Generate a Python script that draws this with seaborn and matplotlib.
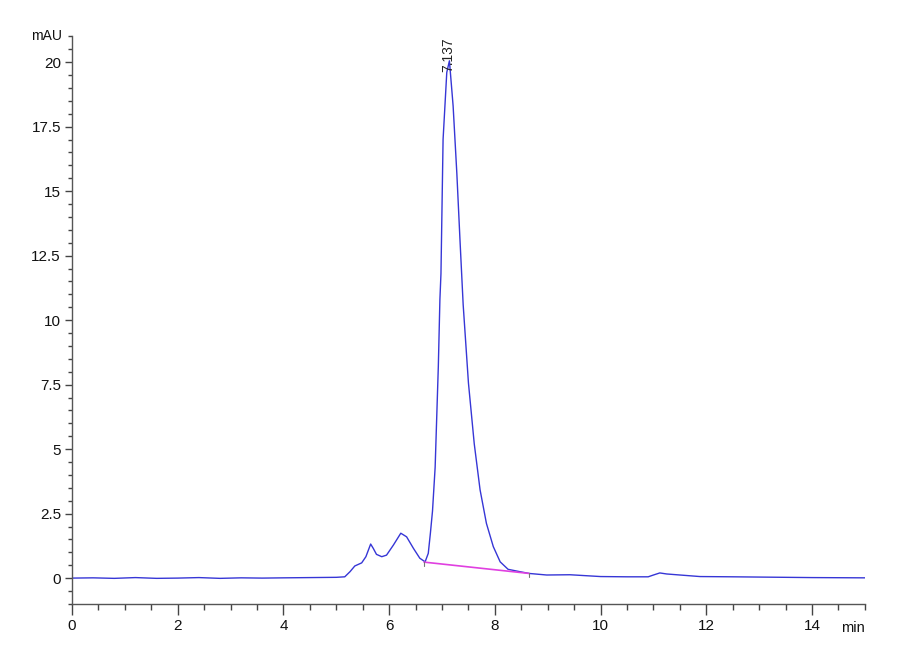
import numpy as np
import pandas as pd
import matplotlib
matplotlib.use("Agg")
import matplotlib.pyplot as plt
import seaborn as sns
from matplotlib.ticker import MultipleLocator

# ---- data ----
time_min = [0.0, 0.4, 0.8, 1.2, 1.6, 2.0, 2.4, 2.8, 3.2, 3.6, 4.0, 4.5, 5.0, 5.16,
            5.26, 5.35, 5.48, 5.56, 5.65, 5.70, 5.76, 5.86, 5.95, 6.08, 6.22,
            6.33, 6.46, 6.58, 6.68, 6.74, 6.78, 6.82, 6.87, 6.93, 6.96, 6.98,
            7.00, 7.02, 7.09, 7.14, 7.21, 7.28, 7.34, 7.40, 7.50, 7.61,
            7.72, 7.84, 7.97, 8.10, 8.25, 8.47, 8.65, 8.98, 9.42, 10.0, 10.5,
            10.9, 11.0, 11.12, 11.25, 11.5, 11.88, 12.5, 13.0, 13.5, 14.0, 15.0]
signal_mAU = [0.0, 0.01, -0.01, 0.02, -0.01, 0.0, 0.02, -0.01, 0.01, 0.0, 0.01, 0.02, 0.03, 0.05,
              0.25, 0.47, 0.59, 0.83, 1.32, 1.15, 0.92, 0.83, 0.89, 1.28, 1.74,
              1.60, 1.15, 0.77, 0.63, 0.96, 1.74, 2.6, 4.3, 8.2, 10.8, 11.8,
              14.4, 17.0, 19.6, 20.05, 18.3, 15.7, 13.1, 10.6, 7.56, 5.2,
              3.42, 2.12, 1.22, 0.63, 0.34, 0.25, 0.18, 0.12, 0.13, 0.06, 0.05,
              0.05, 0.12, 0.20, 0.16, 0.12, 0.06, 0.05, 0.04, 0.03, 0.02, 0.01]

baseline_t = [6.66, 8.65]
baseline_v = [0.62, 0.18]

peak_rt = 7.137
peak_label = "7.137"

df = pd.DataFrame({"t": time_min, "v": signal_mAU})
bl = pd.DataFrame({"t": baseline_t, "v": baseline_v})

sns.set_style("white")
plt.rcParams["font.family"] = ["Liberation Sans Narrow", "Liberation Sans", "DejaVu Sans"]

fig = plt.figure(figsize=(9, 6.6), dpi=100)
ax = fig.add_axes([0.08, 0.085, 0.881, 0.86])

sns.lineplot(data=df, x="t", y="v", sort=False, ax=ax, color="#3636d6", lw=1.0)
sns.lineplot(data=bl, x="t", y="v", sort=False, ax=ax, color="#e040e0", lw=1.2)

# integration tick marks at baseline ends
for tt, vv in zip(baseline_t, baseline_v):
    ax.plot([tt, tt], [vv, vv - 0.15], color="#777777", lw=0.8)

ax.text(peak_rt - 0.02, 19.6, peak_label, rotation=90, ha="center", va="bottom",
        fontsize=10, color="#222222")

ax.set_xlim(0, 15)
ax.set_ylim(-1, 21)
ax.xaxis.set_minor_locator(MultipleLocator(0.5))
ax.yaxis.set_minor_locator(MultipleLocator(0.5))
ax.set_xticks([0, 2, 4, 6, 8, 10, 12, 14])
ax.set_yticks([0, 2.5, 5, 7.5, 10, 12.5, 15, 17.5, 20])
ax.set_yticklabels(["0", "2.5", "5", "7.5", "10", "12.5", "15", "17.5", "20"])

for s in ["top", "right"]:
    ax.spines[s].set_visible(False)
for s in ["left", "bottom"]:
    ax.spines[s].set_color("#555555")
    ax.spines[s].set_linewidth(1.0)

ax.tick_params(which="both", bottom=True, left=True, top=False, right=False)
ax.tick_params(axis="x", which="major", direction="out", length=8, width=1,
               color="#444444", labelsize=11, pad=3, labelcolor="#111111")
ax.tick_params(axis="x", which="minor", direction="out", length=4, width=1,
               color="#444444")
ax.tick_params(axis="y", which="major", direction="out", length=5, width=1,
               color="#444444", labelsize=11, pad=3, labelcolor="#111111")
ax.tick_params(axis="y", which="minor", direction="out", length=3, width=1,
               color="#444444")
ax.set_xlabel("")
ax.set_ylabel("")

ax.text(-0.012, 1.0, "mAU", transform=ax.transAxes, ha="right", va="center",
        fontsize=10, color="#111111")
ax.text(1.0, -0.03, "min", transform=ax.transAxes, ha="right", va="top",
        fontsize=10.5, color="#111111")

fig.savefig("out.png", dpi=100, facecolor="white")
